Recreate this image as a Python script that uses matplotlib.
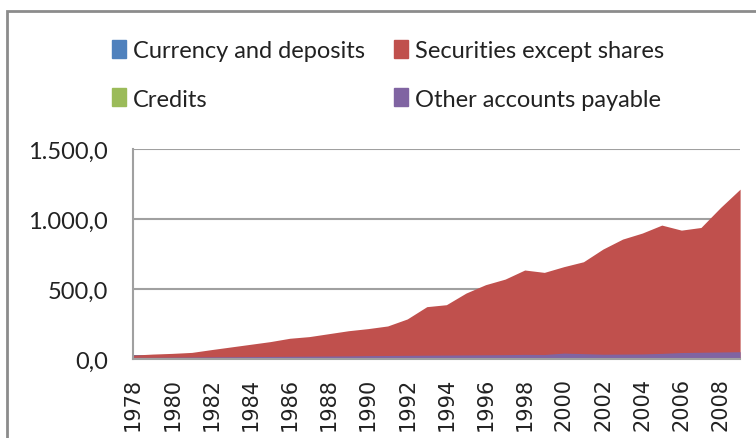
import matplotlib.pyplot as plt
import matplotlib.patches as mpatches
import matplotlib.ticker as mticker
import numpy as np

years = list(range(1978, 2010))

currency = [32, 30, 26, 22, 20, 18, 16, 15, 14, 14, 13, 13, 12, 12, 12, 12,
            12, 12, 12, 12, 12, 12, 12, 12, 12, 12, 12, 12, 12, 12, 12, 12]
securities = [28, 35, 40, 47, 67, 86, 105, 124, 148, 160, 181, 202, 217, 236, 286, 374,
              388, 471, 531, 571, 636, 619, 660, 695, 786, 857, 900, 957, 921, 940, 1083, 1214]
credits = [5, 5, 5, 5, 5, 5, 5, 5, 5, 5, 5, 5, 5, 5, 5, 5,
           5, 5, 5, 5, 5, 5, 5, 5, 5, 5, 5, 5, 5, 5, 5, 5]
other = [12, 12, 13, 14, 15, 16, 17, 18, 19, 20, 21, 22, 24, 25, 26, 27,
         28, 29, 30, 31, 33, 32, 42, 38, 34, 35, 36, 40, 46, 48, 50, 52]

labels = ["Currency and deposits", "Securities except shares", "Credits", "Other accounts payable"]
colors = ["#4F81BD", "#C0504D", "#9BBB59", "#8064A2"]

fig = plt.figure(figsize=(7.56, 4.39), dpi=100)
ax = fig.add_axes([0.176, 0.18, 0.803, 0.478])

x = np.arange(len(years))
# Excel-style overlapping (non stacked) areas, later series drawn on top
for vals, c in zip([currency, securities, credits, other], colors):
    ax.fill_between(x, vals, 0, color=c, lw=0)

ax.set_xlim(0, len(years) - 1)
ax.set_ylim(0, 1500)
ax.set_yticks([0, 500, 1000, 1500])
ax.yaxis.set_major_formatter(mticker.FuncFormatter(
    lambda v, p: "{:,.1f}".format(v).replace(",", "X").replace(".", ",").replace("X", ".")))
ax.set_xticks(x[::2])
ax.set_xticklabels([str(y) for y in years[::2]], rotation=90, fontsize=15, family="DejaVu Sans")
ax.tick_params(axis="both", length=0, colors="#222222")
ax.tick_params(axis="y", labelsize=17, pad=18)
for lab in ax.get_yticklabels():
    lab.set_family("Lato")
ax.tick_params(axis="x", pad=13)

ax.grid(axis="y", color="#a0a0a0", lw=1.5)
ax.set_axisbelow(True)
for s in ["top", "right"]:
    ax.spines[s].set_visible(False)
for s in ["left", "bottom"]:
    ax.spines[s].set_color("#a0a0a0")
    ax.spines[s].set_linewidth(1.5)

# legend filled row by row like the original (matplotlib fills by column)
order = [0, 2, 1, 3]
handles = [mpatches.Rectangle((0, 0), 1, 1, color=colors[i]) for i in order]
leg = fig.legend(handles, [labels[i] for i in order], ncol=2, loc="upper left",
                 bbox_to_anchor=(0.12, 0.955),
                 frameon=False, prop={"family": "Lato", "size": 17},
                 handlelength=0.6, handleheight=0.8, handletextpad=0.3,
                 columnspacing=1.2, labelspacing=1.15)
for t in leg.get_texts():
    t.set_color("#222222")

# outer chart border (cut off at right and bottom)
fig.patches.append(mpatches.Rectangle((7 / 756, -0.05), 1.1, 1 - 12 / 439 + 0.05,
                                      transform=fig.transFigure, fill=False,
                                      edgecolor="#8c8c8c", lw=2))

fig.savefig("out.png", dpi=100)
